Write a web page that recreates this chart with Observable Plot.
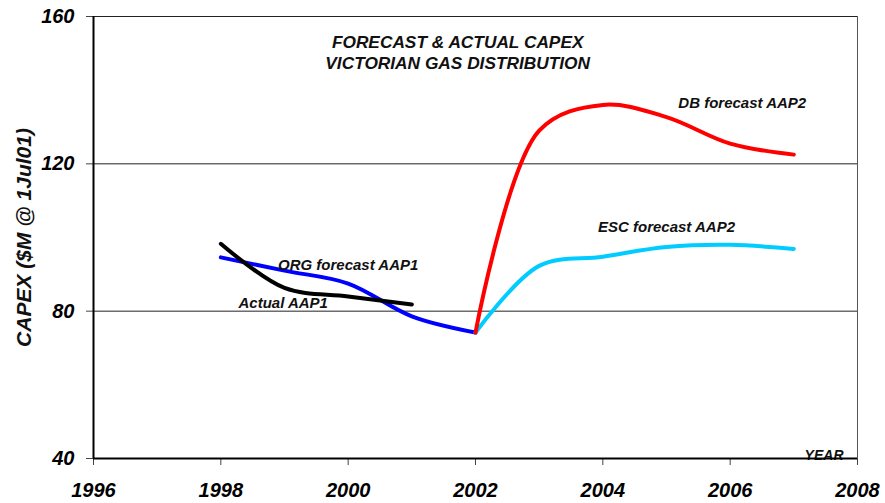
<!DOCTYPE html>
<html>
<head>
<meta charset="utf-8">
<script src="https://cdn.jsdelivr.net/npm/d3@7"></script>
<script src="https://cdn.jsdelivr.net/npm/@observablehq/plot@0.6"></script>
<style>
  html, body { margin: 0; padding: 0; background: #fff; }
  #chart svg { display: block; }
</style>
</head>
<body>
<div id="chart"></div>
<script>
// ---- data ----
const xTicks = [1996, 1998, 2000, 2002, 2004, 2006, 2008];
const yTicks = [40, 80, 120, 160];

const actualYears  = [1998, 1999, 2000, 2001];
const actualValues = [98.3, 86.3, 84.0, 81.8];

const orgYears  = [1998, 1999, 2000, 2001, 2002];
const orgValues = [94.6, 91.0, 87.5, 78.6, 74.2];

const dbYears  = [2002, 2003, 2004, 2005, 2006, 2007];
const dbValues = [74.2, 129.0, 136.0, 132.7, 125.5, 122.5];

const escYears  = [2002, 2003, 2004, 2005, 2006, 2007];
const escValues = [74.2, 92.3, 94.8, 97.4, 98.0, 96.9];

const seriesLabels = ["ORG forecast AAP1", "Actual AAP1", "DB forecast AAP2", "ESC forecast AAP2"];
const seriesLabelX = [2000.0, 1998.98, 2006.19, 2005.0];
const seriesLabelY = [92.4, 82.1, 136.4, 102.7];

const titleLines = ["FORECAST & ACTUAL CAPEX", "VICTORIAN GAS DISTRIBUTION"];
const titleX = [2001.72, 2001.72];
const titleY = [152.9, 147.2];

const yLabel = "CAPEX ($M @ 1Jul01)";
const xLabel = "YEAR";

// ---- tables ----
const zip = (xs, ys) => xs.map((x, i) => ({x, y: ys[i]}));
const actual = zip(actualYears, actualValues);
const org = zip(orgYears, orgValues);
const db = zip(dbYears, dbValues);
const esc = zip(escYears, escValues);
const labels = seriesLabels.map((t, i) => ({t, x: seriesLabelX[i], y: seriesLabelY[i]}));
const titles = titleLines.map((t, i) => ({t, x: titleX[i], y: titleY[i]}));

const font = "'Liberation Sans', Arial, Helvetica, sans-serif";
const txt = {fontFamily: font, fontWeight: "bold", fontStyle: "italic", fill: "#111"};
const lineOpts = {x: "x", y: "y", strokeWidth: 4, curve: "catmull-rom", strokeLinecap: "round", strokeLinejoin: "round"};

const chart = Plot.plot({
  width: 885,
  height: 503,
  marginLeft: 93,
  marginRight: 28,
  marginTop: 16,
  marginBottom: 45,
  style: {fontFamily: font, background: "#fff"},
  x: {domain: [1996, 2008]},
  y: {domain: [40, 160]},
  marks: [
    Plot.ruleY(yTicks.slice(1), {stroke: "#222", strokeWidth: 1}),
    Plot.ruleX([2008], {stroke: "#555", strokeWidth: 1}),
    Plot.text([xLabel], {text: d => d, frameAnchor: "bottom-right", dx: -14, dy: 1, fontSize: 14, ...txt, textAnchor: "end", lineAnchor: "bottom"}),
    Plot.line(org, {...lineOpts, stroke: "#0000FF"}),
    Plot.line(actual, {...lineOpts, stroke: "#000000"}),
    Plot.line(esc, {...lineOpts, stroke: "#00CCFF"}),
    Plot.line(db, {...lineOpts, stroke: "#FF0000"}),
    Plot.text(labels, {x: "x", y: "y", text: "t", fontSize: 15, ...txt}),
    Plot.text(titles, {x: "x", y: "y", text: "t", fontSize: 17.3, ...txt}),
    Plot.axisX({ticks: xTicks, tickFormat: d => String(d), tickSize: 7, tickPadding: 17, fontSize: 20, fontWeight: "bold", fontStyle: "italic", fontFamily: font, label: null, stroke: "#444"}),
    Plot.axisY({ticks: yTicks, tickSize: 7, tickPadding: 12, fontSize: 20, fontWeight: "bold", fontStyle: "italic", fontFamily: font, label: null, stroke: "#444"}),
    Plot.ruleY([40], {stroke: "#000", strokeWidth: 2}),
    Plot.ruleX([1996], {stroke: "#000", strokeWidth: 2}),
    Plot.text([yLabel], {text: d => d, frameAnchor: "left", dx: -69, rotate: -90, textAnchor: "middle", fontSize: 21, ...txt})
  ]
});
document.getElementById("chart").appendChild(chart);
</script>
</body>
</html>
